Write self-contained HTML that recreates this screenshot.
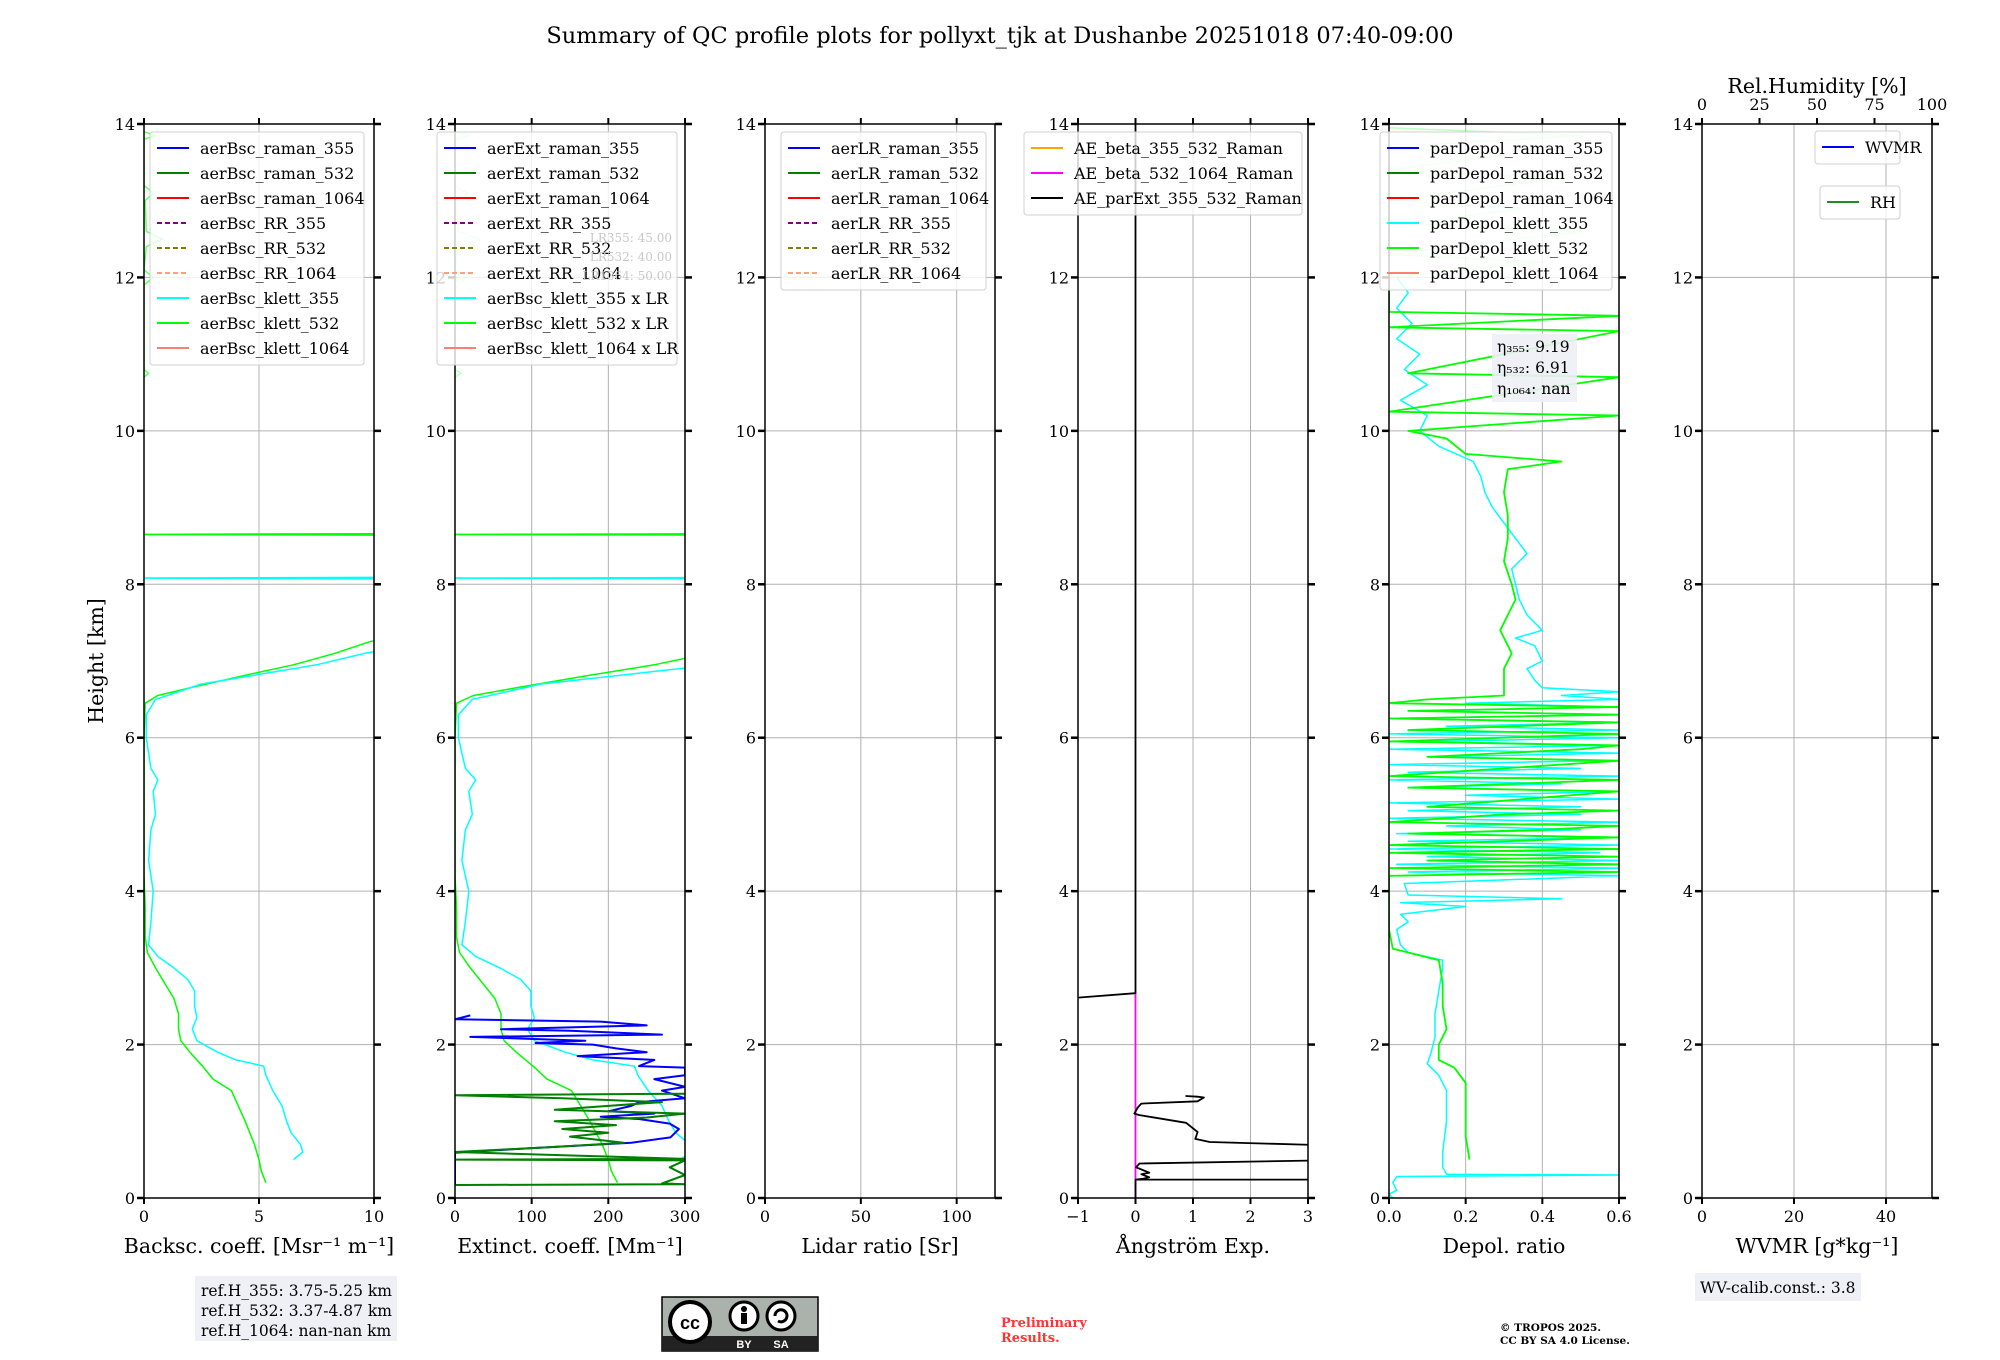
<!DOCTYPE html>
<html><head><meta charset="utf-8">
<style>
html,body{margin:0;padding:0;background:#fff;}
svg{display:block;font-family:"DejaVu Serif","Liberation Serif",serif;}
</style></head>
<body>
<svg id="fig" width="2000" height="1360" viewBox="0 0 2000 1360" xmlns="http://www.w3.org/2000/svg">
<rect width="2000" height="1360" fill="#fff"/>
<text x="1000" y="43" text-anchor="middle" font-size="22.5">Summary of QC profile plots for pollyxt_tjk at Dushanbe 20251018 07:40-09:00</text>
<text transform="translate(103,661) rotate(-90)" text-anchor="middle" font-size="20.5">Height [km]</text>
<g id="panels"></g>
<g>
<rect x="195" y="1276" width="202" height="65" fill="#eef0f5"/>
<text x="201" y="1296" font-size="15.5">ref.H_355: 3.75-5.25 km</text>
<text x="201" y="1316" font-size="15.5">ref.H_532: 3.37-4.87 km</text>
<text x="201" y="1336" font-size="15.5">ref.H_1064: nan-nan km</text>
</g>
<g>
<rect x="662" y="1297" width="156" height="54" fill="#aab2ab" stroke="#000" stroke-width="1.5"/>
<rect x="662" y="1336" width="156" height="15" fill="#222"/>
<circle cx="690" cy="1322" r="20" fill="#fff" stroke="#000" stroke-width="4"/>
<text x="690" y="1329" text-anchor="middle" font-size="18" font-weight="bold" font-family="Liberation Sans,sans-serif">cc</text>
<circle cx="744" cy="1316" r="14" fill="#fff" stroke="#000" stroke-width="3"/>
<circle cx="744" cy="1309" r="3" fill="#000"/><rect x="741" y="1313" width="6" height="11" fill="#000"/>
<circle cx="781" cy="1316" r="14" fill="#fff" stroke="#000" stroke-width="3"/>
<path d="M775 1316 a6 6 0 1 1 3 5" fill="none" stroke="#000" stroke-width="3"/>
<text x="744" y="1348" text-anchor="middle" font-size="11" fill="#fff" font-family="Liberation Sans,sans-serif" font-weight="bold">BY</text>
<text x="781" y="1348" text-anchor="middle" font-size="11" fill="#fff" font-family="Liberation Sans,sans-serif" font-weight="bold">SA</text>
</g>
<text x="1001" y="1327" font-size="13" font-weight="bold" fill="#ff3333">Preliminary</text>
<text x="1001" y="1342" font-size="13" font-weight="bold" fill="#ff3333">Results.</text>
<text x="1500" y="1331" font-size="10.5" font-weight="bold">© TROPOS 2025.</text>
<text x="1500" y="1344" font-size="10.5" font-weight="bold">CC BY SA 4.0 License.</text>
<g>
<rect x="1695" y="1273" width="166" height="28" fill="#eef0f5"/>
<text x="1700" y="1293" font-size="15.5">WV-calib.const.: 3.8</text>
</g>
</svg>
<script>
// ---------- data (height km, value) ----------
const bscKlett532 = [[0.2,5.3],[0.35,5.1],[0.5,5.0],[0.7,4.8],[1.0,4.4],[1.2,4.1],[1.4,3.8],[1.55,3.0],[1.7,2.6],[1.9,2.0],[2.05,1.6],[2.2,1.5],[2.4,1.5],[2.6,1.3],[2.8,0.9],[3.0,0.5],[3.2,0.15],[3.4,0.05],[3.8,0.05],[4.2,0.0],[5.0,0.0],[6.0,0.0],[6.45,0.05],[6.55,0.6],[6.65,2.0],[6.8,4.2],[6.95,6.5],[7.1,8.3],[7.25,9.8],[7.3,10.5],[8.64,10.5],[8.65,-1],[8.66,10.5]];
const bscKlett532Top = [[10.7,0.0],[10.75,0.2],[10.8,0.0],[11.9,0.0],[12.0,0.4],[12.1,0.0],[12.4,0.1],[12.5,0.8],[12.6,0.1],[13.0,0.05],[13.1,0.4],[13.2,0.0],[13.8,0.0],[13.85,0.5],[13.9,0.0]];
const bscKlett355 = [[0.5,6.5],[0.6,6.9],[0.7,6.8],[0.85,6.4],[1.0,6.2],[1.2,6.0],[1.4,5.6],[1.6,5.3],[1.72,5.2],[1.8,4.0],[1.9,3.2],[2.05,2.3],[2.2,2.1],[2.35,2.3],[2.5,2.2],[2.7,2.2],[2.85,1.9],[3.0,1.3],[3.15,0.6],[3.3,0.2],[3.6,0.3],[4.0,0.4],[4.4,0.2],[4.8,0.3],[5.0,0.5],[5.3,0.4],[5.45,0.6],[5.6,0.3],[6.0,0.1],[6.3,0.1],[6.5,0.5],[6.7,2.5],[6.85,5.5],[6.95,7.5],[7.1,9.6],[7.15,10.5],[8.07,10.5],[8.08,-1],[8.09,10.5]];
const lr355 = 45, lr532 = 40;
const extRaman355 = [[0.17,0],[0.59,0],[0.65,100],[0.72,230],[0.79,281],[0.9,292],[0.97,280],[1.03,240],[1.06,190],[1.1,260],[1.13,200],[1.2,230],[1.25,240],[1.3,300],[1.4,270],[1.45,300],[1.55,260],[1.6,300],[1.7,300],[1.72,240],[1.8,260],[1.85,160],[1.9,250],[1.95,210],[2.0,180],[2.02,105],[2.05,170],[2.1,20],[2.13,270],[2.18,150],[2.2,60],[2.25,250],[2.3,190],[2.33,0],[2.38,20]];
const extRaman532 = [[0.17,0],[0.18,300],[0.19,270],[0.3,300],[0.4,280],[0.49,300],[0.5,0],[0.51,300],[0.6,0],[0.66,120],[0.72,220],[0.8,150],[0.85,200],[0.9,140],[0.95,210],[1.0,130],[1.05,250],[1.1,300],[1.15,130],[1.2,200],[1.25,270],[1.3,140],[1.34,0],[1.36,300]];
const aeParExt = [[14,0],[2.67,0],[2.6,-1.2]];
const aeParExtLow = [[1.33,0.87],[1.32,1.08],[1.31,1.19],[1.26,1.08],[1.23,0.1],[1.18,0.04],[1.1,-0.02],[1.08,0.07],[0.98,0.88],[0.86,1.08],[0.77,1.04],[0.73,1.29],[0.69,3.2]];
const aeParExtLow2 = [[0.49,3.2],[0.45,0.07],[0.40,0.01],[0.33,0.24],[0.31,0.1],[0.27,0.24],[0.25,0.13],[0.24,0],[0.24,3.2]];
const aeBeta355532 = [[0,0],[2.67,0]];
const dep355 = [[0,0.01],[0.05,0.0],[0.1,0.02],[0.2,0.01],[0.28,0.02],[0.3,0.6],[0.31,0.15],[0.4,0.14],[0.6,0.14],[1.0,0.15],[1.4,0.15],[1.6,0.13],[1.75,0.1],[1.9,0.11],[2.1,0.12],[2.4,0.12],[2.7,0.13],[3.0,0.14],[3.1,0.14],[3.2,0.05],[3.3,0.03],[3.5,0.02],[3.6,0.05],[3.7,0.03],[3.8,0.2],[3.85,0.03],[3.9,0.45],[3.95,0.05],[4.1,0.04],[4.2,0.6],[4.25,0.05],[4.3,0.6],[4.35,0.02],[4.4,0.6],[4.45,0.1],[4.5,0.55],[4.55,0.0],[4.6,0.6],[4.65,0.05],[4.7,0.6],[4.75,0.02],[4.8,0.5],[4.85,0.15],[4.9,0.6],[4.95,0.0],[5.0,0.5],[5.05,0.05],[5.1,0.5],[5.15,0.0],[5.2,0.6],[5.25,0.2],[5.3,0.6],[5.35,0.05],[5.4,0.45],[5.45,0.0],[5.5,0.6],[5.55,0.05],[5.6,0.5],[5.65,0.0],[5.7,0.55],[5.75,0.1],[5.8,0.6],[5.85,0.0],[5.9,0.6],[5.95,0.1],[6.0,0.6],[6.05,0.0],[6.1,0.6],[6.15,0.15],[6.2,0.6],[6.25,0.0],[6.3,0.6],[6.35,0.1],[6.4,0.6],[6.45,0.2],[6.5,0.6],[6.55,0.45],[6.6,0.6],[6.65,0.4],[6.75,0.38],[6.9,0.36],[7.0,0.4],[7.2,0.38],[7.3,0.33],[7.4,0.4],[7.6,0.36],[7.8,0.34],[8.0,0.33],[8.2,0.32],[8.4,0.36],[8.6,0.33],[8.8,0.3],[9.0,0.27],[9.2,0.25],[9.4,0.24],[9.6,0.22],[9.8,0.13],[10.0,0.08],[10.2,0.1],[10.4,0.03],[10.6,0.1],[10.8,0.04],[11.0,0.08],[11.2,0.02],[11.4,0.06],[11.6,0.02],[11.8,0.05],[12.0,0.02]];
const dep532 = [[0.5,0.21],[0.8,0.2],[1.2,0.2],[1.5,0.2],[1.7,0.17],[1.8,0.13],[2.0,0.13],[2.2,0.15],[2.5,0.14],[2.8,0.14],[3.1,0.13],[3.2,0.05],[3.25,0.01],[3.5,0.0],[4.0,0.0],[4.2,0.0],[4.25,0.6],[4.3,0.0],[4.35,0.6],[4.4,0.1],[4.45,0.6],[4.5,0.0],[4.55,0.6],[4.6,0.0],[4.7,0.6],[4.75,0.05],[4.8,0.4],[4.85,0.6],[4.9,0.0],[5.0,0.3],[5.05,0.6],[5.1,0.1],[5.2,0.35],[5.3,0.6],[5.35,0.05],[5.45,0.6],[5.5,0.0],[5.6,0.3],[5.7,0.6],[5.75,0.1],[5.85,0.5],[5.9,0.6],[5.95,0.0],[6.05,0.6],[6.1,0.05],[6.2,0.6],[6.25,0.0],[6.3,0.6],[6.35,0.05],[6.4,0.6],[6.45,0.0],[6.5,0.1],[6.55,0.3],[6.7,0.3],[6.9,0.3],[7.1,0.32],[7.4,0.29],[7.6,0.31],[7.8,0.33],[8.0,0.32],[8.3,0.3],[8.6,0.31],[8.9,0.31],[9.2,0.3],[9.5,0.31],[9.6,0.45],[9.7,0.2],[9.9,0.15],[10.0,0.05],[10.2,0.6],[10.25,0.0],[10.7,0.6],[10.75,0.05],[11.3,0.6],[11.35,0.0],[11.5,0.6],[11.55,0.0],[12.0,0.0]];
const dep532Top = [[12.0,0.0],[12.2,0.4],[12.3,0.0],[12.6,0.5],[12.7,0.05],[12.9,0.35],[13.0,0.0],[13.3,0.45],[13.4,0.0],[13.6,0.3],[13.7,0.0],[13.85,0.5],[13.95,0.0]];
const xTicks = [[0,5,10],[0,100,200,300],[0,50,100],[-1,0,1,2,3],[0,0.2,0.4,0.6],[0,20,40]];
const xTickLabels = [["0","5","10"],["0","100","200","300"],["0","50","100"],["\u22121","0","1","2","3"],["0.0","0.2","0.4","0.6"],["0","20","40"]];
const xRanges = [[0,10],[0,300],[0,120],[-1,3],[0,0.6],[0,50]];
const yTicks = [0,2,4,6,8,10,12,14];
const rhTicks = [0,25,50,75,100];
const xLabels = ["Backsc. coeff. [Msr\u207B\u00B9 m\u207B\u00B9]","Extinct. coeff. [Mm\u207B\u00B9]","Lidar ratio [Sr]","\u00C5ngstr\u00F6m Exp.","Depol. ratio","WVMR [g*kg\u207B\u00B9]"];

// ---------- layout ----------
const NS="http://www.w3.org/2000/svg";
const PX=[144,455,765,1078,1389,1702], PW=230, TOP=124, BOT=1198, HMAX=14;
const root=document.getElementById('panels');
function el(tag,attrs,parent){const e=document.createElementNS(NS,tag);for(const k in attrs)e.setAttribute(k,attrs[k]);(parent||root).appendChild(e);return e;}
function sy(h){return BOT-(h/HMAX)*(BOT-TOP);}
function sxf(i){const r=xRanges[i];return v=>PX[i]+(v-r[0])/(r[1]-r[0])*PW;}

const defs=el('defs',{});
for(let i=0;i<6;i++){const c=el('clipPath',{id:'clip'+i},defs);el('rect',{x:PX[i],y:TOP,width:PW,height:BOT-TOP},c);}

const panels=[];
for(let i=0;i<6;i++){
  const g=el('g',{});
  
  
  panels.push(g);
  const sx=sxf(i);
  xTicks[i].forEach(v=>{const l=el('line',{x1:sx(v),x2:sx(v),y1:TOP,y2:BOT,stroke:'#b0b0b0','stroke-width':1},g);});
  yTicks.forEach(h=>{const l=el('line',{x1:PX[i],x2:PX[i]+PW,y1:sy(h),y2:sy(h),stroke:'#b0b0b0','stroke-width':1},g);});
}
function line(i,pts,color,w,name,opacity,dash){
  const sx=sxf(i);
  const p=el('polyline',{points:pts.map(d=>sx(d[1]).toFixed(1)+','+sy(d[0]).toFixed(1)).join(' '),fill:'none',stroke:color,'stroke-width':w||1.5,'clip-path':'url(#clip'+i+')','stroke-linejoin':'round','stroke-opacity':opacity||1},panels[i]);
  if(dash)p.setAttribute('stroke-dasharray',dash);
  
  
}
// panel 1
line(0,bscKlett532Top,'#00ff00',1.5,'aerbsc-klett-532-top-line',0.6);
line(0,bscKlett532,'#00ff00',1.5,'aerbsc-klett-532-line');
line(0,bscKlett355,'#00ffff',1.5,'aerbsc-klett-355-line');
// panel 2
line(1,bscKlett532Top.map(d=>[d[0],d[1]*lr532]),'#00ff00',1.5,'aerext-klett-532-top-line',0.25);
line(1,bscKlett532.map(d=>[d[0],d[1]*lr532]),'#00ff00',1.5,'aerext-klett-532-line');
line(1,bscKlett355.map(d=>[d[0],d[1]*lr355]),'#00ffff',1.5,'aerext-klett-355-line');
line(1,extRaman355,'#0000ff',2,'aerext-raman-355-line');
line(1,extRaman532,'#007f00',2,'aerext-raman-532-line');
// panel 4
line(3,aeBeta355532,'#ff00ff',1.8,'ae-beta-355-532-line');
line(3,aeParExt,'#000',1.8,'ae-parext-upper-line');
line(3,aeParExtLow,'#000',1.8,'ae-parext-lower-line');
line(3,aeParExtLow2,'#000',1.8,'ae-parext-bottom-line');
line(3,[[0,0],[0.24,0]],'#000',1.8,'ae-parext-base-line');
// panel 5
line(4,dep532Top,'#00ff00',1.5,'pardepol-klett-532-top-line',0.25);
line(4,dep355,'#00ffff',1.5,'pardepol-klett-355-line');
line(4,dep532,'#00ff00',1.8,'pardepol-klett-532-line');

for(let i=0;i<6;i++){
  const g=panels[i], sx=sxf(i);
  const f=el('rect',{x:PX[i],y:TOP,width:PW,height:BOT-TOP,fill:'none',stroke:'#000','stroke-width':1.5},g);
  
  xTicks[i].forEach((v,k)=>{
    const x=sx(v);
    el('line',{x1:x,x2:x,y1:BOT,y2:BOT+6,stroke:'#000','stroke-width':2},g);
    if(i<5) el('line',{x1:x,x2:x,y1:TOP,y2:TOP-6,stroke:'#000','stroke-width':2},g);
    const t=el('text',{x:x,y:BOT+24,'text-anchor':'middle','font-size':16},g);
    t.textContent=xTickLabels[i][k];
    
  });
  yTicks.forEach(h=>{
    const y=sy(h);
    el('line',{x1:PX[i]-7,x2:PX[i],y1:y,y2:y,stroke:'#000','stroke-width':2.5},g);
    el('line',{x1:PX[i]+PW,x2:PX[i]+PW+7,y1:y,y2:y,stroke:'#000','stroke-width':2.5},g);
    const t=el('text',{x:PX[i]-9,y:y+6,'text-anchor':'end','font-size':16},g);
    t.textContent=h;
    
  });
  const xl=el('text',{x:PX[i]+PW/2,y:1253,'text-anchor':'middle','font-size':20.5},g);
  xl.textContent=xLabels[i];
  
}
rhTicks.forEach(v=>{
  const x=PX[5]+v/100*PW;
  el('line',{x1:x,x2:x,y1:TOP,y2:TOP-6,stroke:'#000','stroke-width':2},panels[5]);
  const t=el('text',{x:x,y:110,'text-anchor':'middle','font-size':16},panels[5]);
  t.textContent=v;
  
});
{const t=el('text',{x:PX[5]+PW/2,y:93,'text-anchor':'middle','font-size':20.5},panels[5]);t.textContent='Rel.Humidity [%]';
}

function legend(x,y,w,entries,name){
  const g=el('g',{});
  
  
  el('rect',{x:x,y:y,width:w,height:entries.length*25+8,rx:3,fill:'#fff','fill-opacity':0.8,stroke:'#d0d0d0'},g);
  entries.forEach((e,k)=>{
    const cy=y+16+k*25;
    const l=el('line',{x1:x+7,x2:x+39,y1:cy,y2:cy,stroke:e[1],'stroke-width':2},g);
    if(e[2])l.setAttribute('stroke-dasharray','5,3');
    const t=el('text',{x:x+50,y:cy+6,'font-size':16},g);t.textContent=e[0];
    
  });
}
const C={b:'#0000ff',g:'#007f00',r:'#ff0000',p:'#800080',o:'#808000',s:'#ffa07a',c:'#00ffff',l:'#00ff00',k:'#fa8072'};
legend(150,132,214,[['aerBsc_raman_355',C.b],['aerBsc_raman_532',C.g],['aerBsc_raman_1064',C.r],['aerBsc_RR_355',C.p,1],['aerBsc_RR_532',C.o,1],['aerBsc_RR_1064',C.s,1],['aerBsc_klett_355',C.c],['aerBsc_klett_532',C.l],['aerBsc_klett_1064',C.k]],'backscatter-legend');
legend(437,132,240,[['aerExt_raman_355',C.b],['aerExt_raman_532',C.g],['aerExt_raman_1064',C.r],['aerExt_RR_355',C.p,1],['aerExt_RR_532',C.o,1],['aerExt_RR_1064',C.s,1],['aerBsc_klett_355 x LR',C.c],['aerBsc_klett_532 x LR',C.l],['aerBsc_klett_1064 x LR',C.k]],'extinction-legend');
legend(781,132,205,[['aerLR_raman_355',C.b],['aerLR_raman_532',C.g],['aerLR_raman_1064',C.r],['aerLR_RR_355',C.p,1],['aerLR_RR_532',C.o,1],['aerLR_RR_1064',C.s,1]],'lidar-ratio-legend');
legend(1024,132,278,[['AE_beta_355_532_Raman','#ffa500'],['AE_beta_532_1064_Raman','#ff00ff'],['AE_parExt_355_532_Raman','#000']],'angstrom-legend');
legend(1380,132,232,[['parDepol_raman_355',C.b],['parDepol_raman_532',C.g],['parDepol_raman_1064',C.r],['parDepol_klett_355',C.c],['parDepol_klett_532',C.l],['parDepol_klett_1064',C.k]],'depol-legend');
legend(1815,131,85,[['WVMR',C.b]],'wvmr-legend');
legend(1820,186,80,[['RH','#228b22']],'rh-legend');

[['LR355: 45.00',242],['LR532: 40.00',261],['LR1064: 50.00',280]].forEach(d=>{
  const t=el('text',{x:672,y:d[1],'text-anchor':'end','font-size':12,fill:'#c8c8c8'});t.textContent=d[0];
  
});
{const g=el('g',{});
el('rect',{x:1492,y:334,width:85,height:68,fill:'#eef0f5','fill-opacity':0.9},g);
[['\u03B7\u2083\u2085\u2085: 9.19',352],['\u03B7\u2085\u2083\u2082: 6.91',373],['\u03B7\u2081\u2080\u2086\u2084: nan',394]].forEach(d=>{const t=el('text',{x:1497,y:d[1],'font-size':15.5},g);t.textContent=d[0];});}
</script>
</body></html>
